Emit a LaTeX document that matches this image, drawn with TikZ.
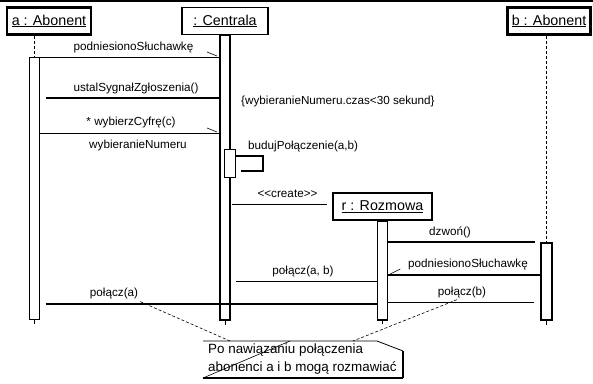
\documentclass[tikz,border=0pt]{standalone}
\usepackage{fontspec}
\setmainfont{Liberation Sans}
\usetikzlibrary{calc}
\begin{document}
\begin{tikzpicture}[x=1pt,y=-1pt,
  objbox/.style={draw,fill=white,inner sep=0pt,font=\fontsize{14.3}{16}\selectfont},
  actbar/.style={draw,fill=white,inner sep=0pt,minimum width=10,anchor=north},
  lifeline/.style={line width=0.8pt,dash pattern=on 3pt off 2pt},
  thinmsg/.style={line width=0.9pt},
  thickmsg/.style={line width=2pt},
  tick/.style={line width=0.6pt},
  lbl/.style={inner sep=0pt,font=\fontsize{11.7}{13}\selectfont},
  notelink/.style={line width=0.6pt,dash pattern=on 3pt off 2pt}]
\useasboundingbox (0,0) rectangle (593,383);
\draw[line width=1.5pt] (0,1) -- (593,1);

% objects
\node[objbox,line width=2.5pt,minimum width=84,minimum height=27] (abox) at (49,21) {\underline{a : Abonent}};
\node[objbox,line width=1.5pt,minimum width=86,minimum height=27] (cbox) at (225,21) {\underline{: Centrala}};
\node[objbox,line width=2.5pt,minimum width=83,minimum height=27] (bbox) at (549,21) {\underline{b : Abonent}};

% activation bars
\node[actbar,line width=1pt,minimum height=262] (abar) at (34,57) {};
\node[actbar,line width=2pt,minimum height=285] (cbar) at (225,34) {};
\node[actbar,line width=1.5pt,minimum height=99] (rbar) at (382.5,220) {};
\node[actbar,line width=2pt,minimum height=77,minimum width=11] (bbar) at (546.5,242) {};
\node[actbar,line width=1pt,minimum height=28,minimum width=11] (sbar) at (229.5,149) {};

% object created during the interaction
\node[objbox,line width=1.3pt,minimum width=99,minimum height=27] (rbox) at (382.5,206.5) {\underline{r : Rozmowa}};

% lifelines
\draw[lifeline] (abar.north |- abox.south) -- (abar.north);
\draw[lifeline] (bbar.north |- bbox.south) -- (bbar.north);
\draw[line width=0.8pt] (abar.south) -- ++(0,4);
\draw[line width=0.8pt] (cbar.south) -- ++(0,4);
\draw[line width=0.8pt] (rbar.south) -- ++(0,3);
\draw[line width=0.8pt] (bbar.south) -- ++(0,4);

% message levels
\coordinate (y1) at (0,57);
\coordinate (y2) at (0,98);
\coordinate (y3) at (0,133);
\coordinate (y4) at (0,204);
\coordinate (y5) at (0,242);
\coordinate (y6) at (0,275);
\coordinate (y7) at (0,281);
\coordinate (y8) at (0,302);
\coordinate (y9) at (0,304);

% a -> Centrala
\draw[thinmsg] (abar.east |- y1) -- (cbar.west |- y1);
\draw[tick] ($(cbar.west |- y1)+(-2,-1)$) -- ++(-10,-4);
\node[lbl] (l1) at (133.5,47) {podniesionoSłuchawkę};

\draw[thickmsg] ($(abar.east |- y2)+(6,0)$) -- (cbar.west |- y2);
\node[lbl] (l2) at (136,88) {ustalSygnałZgłoszenia()};

\draw[thinmsg] (abar.east |- y3) -- (cbar.west |- y3);
\draw[tick] ($(cbar.west |- y3)+(-2,-1)$) -- ++(-10,-4);
\node[lbl] (l3) at (131,122) {* wybierzCyfrę(c)};
\node[lbl] (l3b) at (138,145) {wybieranieNumeru};

\node[lbl,anchor=west] (cons) at (241,101) {\{wybieranieNumeru.czas<30 sekund\}};

% self call
\draw[line width=1.5pt] (sbar.east |- 0,156) -- (263,156) -- (263,171) -- (241,171);
\node[lbl,anchor=west] (l4) at (248,146) {budujPołączenie(a,b)};

% creation of r
\draw[thinmsg] ($(cbar.east |- y4)+(1,0)$) -- ($(rbox.west |- y4)+(-5,0)$);
\node[lbl] (l5) at (287.5,194) {<{}<create>{}>};

% r <-> b
\draw[thickmsg] (rbar.east |- y5) -- ($(bbar.west |- y5)+(-5,0)$);
\node[lbl] (l6) at (450,232) {dzwoń()};

\draw[thickmsg] (rbar.east |- y6) -- (bbar.west |- y6);
\draw[tick] ($(rbar.east |- y6)+(2,-1)$) -- ++(10,-5);
\node[lbl] (l7) at (468,264.5) {podniesionoSłuchawkę};

\draw[thinmsg] ($(cbar.east |- y7)+(5,0)$) -- (rbar.west |- y7);
\node[lbl] (l8) at (303,271) {połącz(a, b)};

\draw[thinmsg] (rbar.east |- y8) -- ($(bbar.west |- y8)+(-6,0)$);
\node[lbl] (l9) at (462,292) {połącz(b)};

\draw[thickmsg] ($(abar.east |- y9)+(6,0)$) -- (rbar.west |- y9);
\node[lbl] (l10) at (114,293) {połącz(a)};

% note
\coordinate (ntl) at (203,341);
\coordinate (nfold) at (377,341);
\coordinate (nfr) at (403,351);
\coordinate (nbr) at (403,378);
\coordinate (nbl) at (203,378);
\draw[line width=0.8pt] (ntl) -- (nfold) -- (nfr);
\draw[line width=1.5pt] (nfr) -- (nbr);
\draw[line width=2pt] (nbr) -- (nbl);
\draw[line width=0.6pt] (nbl) -- (290,341);
\node[inner sep=0pt,anchor=north west,align=left,font=\fontsize{13.4}{17.5}\selectfont] (note) at (208,344)
  {Po nawiązaniu połączenia\\abonenci a i b mogą rozmawiać};

\coordinate (na) at (230,341);
\coordinate (nb) at (353,341);
\draw[notelink] (l10.south east) ++(2,3) -- (na);
\draw[notelink] ($(l9.south)+(-5,2)$) -- (nb);
\end{tikzpicture}
\end{document}
